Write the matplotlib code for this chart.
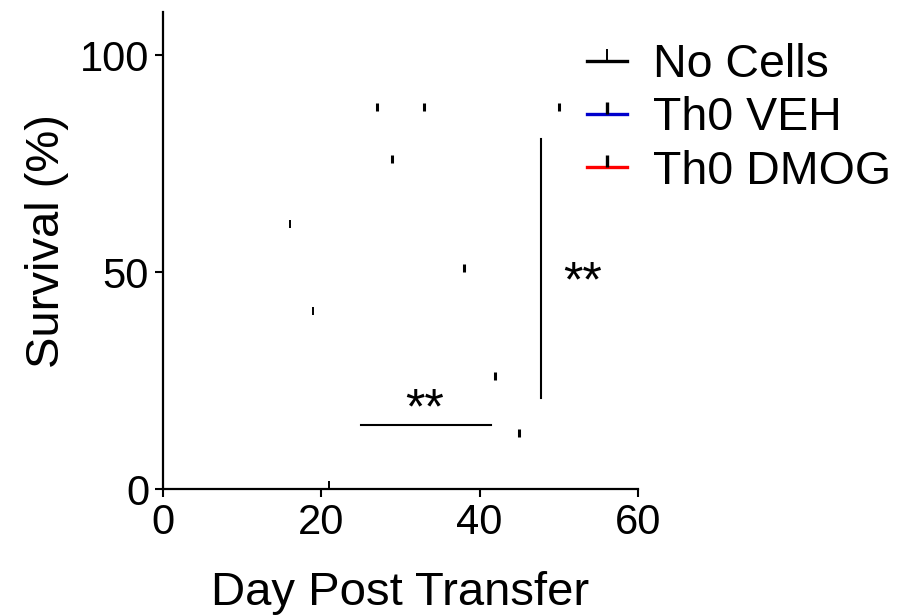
import matplotlib
matplotlib.use('Agg')
import matplotlib.pyplot as plt
from matplotlib.lines import Line2D

plt.rcParams['font.family'] = ['Liberation Sans', 'DejaVu Sans']

# censored points (day, survival %)
groups = ['No Cells', 'Th0 VEH', 'Th0 DMOG']
colors = ['black', '#0000CC', '#FF0000']
nocells_x = [16, 19, 21]
nocells_y = [61, 41, 1]
veh_x = [27, 33, 50]
veh_y = [88, 88, 88]
dmog_x = [29, 38, 42, 45]
dmog_y = [76, 51, 26, 13]

fig = plt.figure(figsize=(9.1, 6.16), dpi=100)
ax = fig.add_axes([0.179, 0.206, 0.522, 0.775])

# only the censor ticks are visible
ax.plot(nocells_x, nocells_y, ls='none', marker='|', color='black', ms=6, mew=1.4)
ax.plot(veh_x, veh_y, ls='none', marker='|', color='black', ms=6, mew=2.2)
ax.plot(dmog_x, dmog_y, ls='none', marker='|', color='black', ms=6, mew=2.2)

# significance bars
ax.plot([25, 41.4], [14.7, 14.7], color='black', lw=1.5)
ax.text(33.1, 18.2, '**', ha='center', va='center', fontsize=36)
ax.plot([47.7, 47.7], [21, 80.7], color='black', lw=1.5)
ax.text(53, 47.5, '**', ha='center', va='center', fontsize=36)

ax.set_xlim(0, 60)
ax.set_ylim(0, 110)
ax.set_xticks([0, 20, 40, 60])
ax.set_yticks([0, 50, 100])
ax.spines['top'].set_visible(False)
ax.spines['right'].set_visible(False)
for s in ['left', 'bottom']:
    ax.spines[s].set_linewidth(1.6)
ax.tick_params(direction='out', length=6, width=1.5, labelsize=30, pad=4)
ax.set_xlabel('Day Post Transfer', fontsize=34, labelpad=20)
ax.set_ylabel('Survival (%)', fontsize=34)
ax.yaxis.set_label_coords(-0.197, 0.52)

handles = [Line2D([0], [0], color=c, lw=2.4, marker=2, mec='black', ms=9,
                  mew=1.4 if i == 0 else 2.4) for i, c in enumerate(colors)]
fig.legend(handles, groups, loc='upper left', bbox_to_anchor=(0.645, 0.93),
           frameon=False, fontsize=33.5, handlelength=0.86, handletextpad=0.55,
           labelspacing=0.2, borderaxespad=0, borderpad=0)

plt.savefig('out.png', dpi=100)
